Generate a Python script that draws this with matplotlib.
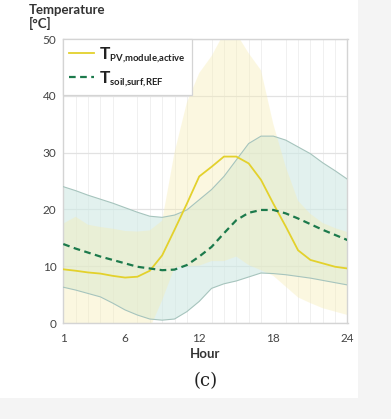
import matplotlib
matplotlib.use("Agg")
import matplotlib.pyplot as plt
from matplotlib.patches import Rectangle
import matplotlib._mathtext as _mt

_mt.SHRINK_FACTOR = 0.55

plt.rcParams['font.family'] = ['Lato', 'DejaVu Sans']
plt.rcParams['mathtext.fontset'] = 'custom'
plt.rcParams['mathtext.rm'] = 'Lato'
plt.rcParams['mathtext.it'] = 'Lato'
plt.rcParams['mathtext.bf'] = 'Lato:bold'

hours = list(range(1, 25))

pv_mean = [9.45, 9.2, 8.9, 8.7, 8.3, 8.0, 8.15, 9.2, 11.9, 16.4, 21.0, 25.8,
           27.5, 29.3, 29.3, 28.1, 25.2, 21.0, 17.0, 12.8, 11.1, 10.5, 9.9, 9.6]
pv_hi = [17.5, 18.7, 17.3, 16.9, 16.6, 16.2, 16.1, 16.3, 18.0, 30.0, 38.8, 44.0,
         47.0, 51.0, 51.0, 47.5, 44.5, 35.0, 27.5, 21.5, 19.2, 17.6, 16.7, 16.0]
pv_lo = [-1.5, -1.5, -1.5, -1.5, -1.5, -1.5, -1.5, -1.0, 4.0, 9.7, 10.0, 10.1,
         10.9, 10.9, 11.7, 10.2, 9.3, 8.3, 6.4, 4.5, 3.5, 2.6, 2.0, 1.4]

soil_mean = [13.9, 13.1, 12.4, 11.7, 11.1, 10.5, 9.9, 9.6, 9.3, 9.4, 10.2, 11.7,
             13.4, 15.8, 18.1, 19.4, 19.9, 19.9, 19.3, 18.4, 17.4, 16.4, 15.5, 14.6]
soil_hi = [24.0, 23.3, 22.5, 21.8, 21.1, 20.3, 19.5, 18.8, 18.6, 19.0, 19.9, 21.7,
           23.5, 25.8, 28.7, 31.6, 32.9, 32.9, 32.2, 31.0, 29.8, 28.2, 26.8, 25.3]
soil_lo = [6.3, 5.8, 5.2, 4.6, 3.5, 2.3, 1.4, 0.7, 0.5, 0.7, 2.0, 3.8,
           6.1, 6.9, 7.4, 8.1, 8.8, 8.7, 8.5, 8.2, 7.9, 7.5, 7.1, 6.7]

xticks = [1, 6, 12, 18, 24]
yticks = [0, 10, 20, 30, 40, 50]

W, H = 391, 419
fig = plt.figure(figsize=(W / 100, H / 100), dpi=100)
fig.patch.set_facecolor('white')
fig.patches.append(Rectangle((358 / W, 0), 1, 1, transform=fig.transFigure,
                             facecolor='#f4f4f4', edgecolor='none', zorder=0))
fig.patches.append(Rectangle((0, 0), 1, 21 / H, transform=fig.transFigure,
                             facecolor='#f4f4f4', edgecolor='none', zorder=0))

ax = fig.add_axes([63.3 / W, 1 - 323 / H, (347.5 - 63.3) / W, (323 - 39) / H])
ax.set_facecolor('white')

ax.fill_between(hours, soil_lo, soil_hi, facecolor='#cfe9e4', alpha=0.6,
                edgecolor='none', zorder=2)
ax.plot(hours, soil_hi, color='#a6c4bd', lw=0.8, zorder=3)
ax.plot(hours, soil_lo, color='#a6c4bd', lw=0.8, zorder=3)
ax.fill_between(hours, pv_lo, pv_hi, facecolor='#f7ecb0', alpha=0.38,
                edgecolor='none', zorder=2.5)

ax.plot(hours, pv_mean, color='#e3d12c', lw=1.3, zorder=4,
        label=r'$\mathbf{T}_{\mathbf{PV{,}module{,}active}}$')
ax.plot(hours, soil_mean, color='#1c7a4c', lw=1.6, ls=(0, (3, 2)), zorder=4,
        label=r'$\mathbf{T}_{\mathbf{soil{,}surf{,}REF}}$')

ax.set_xlim(1, 24)
ax.set_ylim(0, 50)
ax.set_xticks(xticks)
ax.set_xticks(hours, minor=True)
ax.set_yticks(yticks)
ax.grid(False)
ax.grid(which='minor', axis='x', color='#f0f0f0', lw=0.7, zorder=1)
ax.grid(which='major', axis='y', color='#e2e2e2', lw=0.9, zorder=1)
ax.set_axisbelow(True)
ax.tick_params(which='both', length=0, labelsize=8.5, labelcolor='#444444')
ax.tick_params(axis='x', pad=7)
ax.tick_params(axis='y', pad=5)
for s in ax.spines.values():
    s.set_color('#d4d4d4')
    s.set_linewidth(1.0)

leg = ax.legend(loc='upper left', fontsize=12.5, frameon=True, fancybox=False,
                borderaxespad=0, handlelength=1.4, handletextpad=0.3,
                labelspacing=0.25, borderpad=0.35)
leg.get_frame().set_edgecolor('#d4d4d4')
leg.get_frame().set_linewidth(0.9)
leg.get_frame().set_facecolor('white')
leg.get_frame().set_alpha(1)
leg.set_zorder(6)
for t in leg.get_texts():
    t.set_color('#222222')

ax.set_xlabel('Hour', fontsize=9.5, fontweight='bold', color='#333333', labelpad=3)
fig.text(29 / W, 1 - 10 / H, 'Temperature', fontsize=9.5, fontweight='bold',
         color='#333333', ha='left', va='center')
fig.text(29 / W, 1 - 23 / H, '[°C]', fontsize=9.5, fontweight='bold',
         color='#333333', ha='left', va='center')
fig.text(206 / W, 1 - 381 / H, '(c)', fontsize=13, family='DejaVu Serif',
         color='#222222', ha='center', va='center')

fig.savefig('out.png', dpi=100)
